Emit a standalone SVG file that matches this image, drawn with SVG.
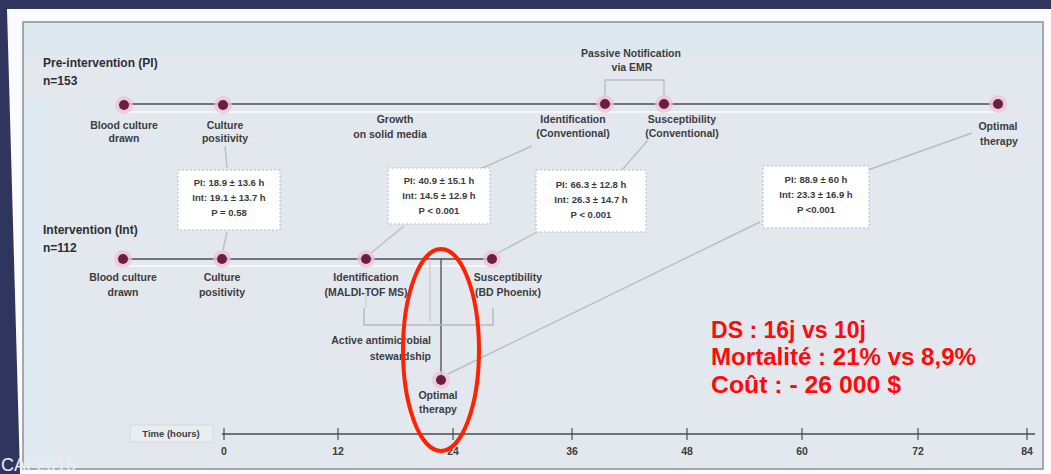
<svg xmlns="http://www.w3.org/2000/svg" width="1051" height="474" viewBox="0 0 1051 474">
<style>
  .lbl{font-family:"Liberation Sans",Arial,sans-serif;font-size:10.5px;font-weight:bold;fill:#3c3c40;text-anchor:middle}
  .ttl{font-family:"Liberation Sans",Arial,sans-serif;font-size:12px;font-weight:bold;fill:#2e2e34}
  .box{fill:#ffffff;stroke:#b8bcc2;stroke-width:1;stroke-dasharray:2 2}
  .btx{font-family:"Liberation Sans",Arial,sans-serif;font-size:9.5px;font-weight:bold;fill:#3a3a40;text-anchor:middle}
  .tl{stroke:#4a4d52;stroke-width:1.6;fill:none}
  .shadow{stroke:#f4f6f8;stroke-width:2;fill:none}
  .conn{stroke:#b9bec4;stroke-width:1.4;fill:none}
  .halo{fill:#f2c2d6;opacity:0.75}
  .dot{fill:#6a1d46}
  .tick{stroke:#4a4d52;stroke-width:1.2}
  .red{font-family:"Liberation Sans",Arial,sans-serif;font-size:23px;font-weight:bold;fill:#ff0a0a}
</style>
<!-- background -->
<rect x="0" y="0" width="1051" height="474" fill="#30355e"/>
<polygon points="7,9 1051,9 1051,474 20,474" fill="#fbfbfd"/>
<rect x="23" y="22" width="1020" height="447" fill="#e3e8ee" stroke="#8c9096" stroke-width="1.5"/>
<rect x="24" y="23" width="1018" height="32" fill="#dde9ef"/>
<rect x="24" y="100" width="28" height="368" fill="#dfeaf2"/>

<!-- connectors -->
<g id="connectors">
  <line class="shadow" x1="124" y1="112" x2="997" y2="112"/>
  <line class="tl" x1="124" y1="104" x2="997" y2="104"/>
  <line class="shadow" x1="123" y1="266" x2="492" y2="266"/>
  <line class="tl" x1="123" y1="259" x2="492" y2="259"/>
  <path class="conn" d="M605,98 V80 H664 V98" stroke="#9a9fa6"/>
  <line class="conn" x1="225" y1="146" x2="227" y2="168"/>
  <line class="conn" x1="227" y1="232" x2="223" y2="250"/>
  <line class="conn" x1="532" y1="146" x2="478" y2="170"/>
  <line class="conn" x1="404" y1="226" x2="371" y2="253"/>
  <line class="conn" x1="648" y1="140" x2="622" y2="170"/>
  <line class="conn" x1="537" y1="232" x2="498" y2="253"/>
  <line class="conn" x1="972" y1="133" x2="868" y2="170"/>
  <line class="conn" x1="760" y1="222" x2="448" y2="374"/>
  <line x1="430" y1="259" x2="430" y2="322" stroke="#c4c8cd" stroke-width="1.2"/>
  <line x1="441" y1="259" x2="441" y2="375" stroke="#55585d" stroke-width="1.4"/>
  <path d="M364,308 V325 H493 V308" fill="none" stroke="#b5b9bf" stroke-width="1.4"/>
  <line x1="366" y1="292" x2="366" y2="308" stroke="#c8ccd1" stroke-width="1"/>
  <line class="tl" x1="222" y1="434" x2="1035" y2="434"/>
</g>

<!-- titles -->
<g id="title-pi">
  <text class="ttl" x="43" y="67">Pre-intervention (PI)</text>
  <text class="ttl" x="43" y="85">n=153</text>
</g>
<g id="title-int">
  <text class="ttl" x="43" y="234">Intervention (Int)</text>
  <text class="ttl" x="43" y="252">n=112</text>
</g>

<!-- PI nodes -->
<g id="pi-blood">
  <circle class="halo" cx="124" cy="105" r="9"/><circle class="dot" cx="124" cy="105" r="5"/>
  <text class="lbl" x="124" y="129">Blood culture</text>
  <text class="lbl" x="124" y="142">drawn</text>
</g>
<g id="pi-positivity">
  <circle class="halo" cx="223" cy="105" r="9"/><circle class="dot" cx="223" cy="105" r="5"/>
  <text class="lbl" x="225" y="129">Culture</text>
  <text class="lbl" x="225" y="142">positivity</text>
</g>
<g id="pi-growth">
  <text class="lbl" x="395" y="123">Growth</text>
  <text class="lbl" x="390" y="138">on solid media</text>
</g>
<g id="pi-notification">
  <text class="lbl" x="631" y="57">Passive Notification</text>
  <text class="lbl" x="632" y="71">via EMR</text>
</g>
<g id="pi-identification">
  <circle class="halo" cx="605" cy="104" r="9"/><circle class="dot" cx="605" cy="104" r="5"/>
  <text class="lbl" x="573" y="123">Identification</text>
  <text class="lbl" x="573" y="137">(Conventional)</text>
</g>
<g id="pi-susceptibility">
  <circle class="halo" cx="664" cy="104" r="9"/><circle class="dot" cx="664" cy="104" r="5"/>
  <text class="lbl" x="682" y="123">Susceptibility</text>
  <text class="lbl" x="682" y="137">(Conventional)</text>
</g>
<g id="pi-optimal">
  <circle class="halo" cx="998" cy="104" r="9"/><circle class="dot" cx="998" cy="104" r="5"/>
  <text class="lbl" x="998" y="130">Optimal</text>
  <text class="lbl" x="999" y="145">therapy</text>
</g>

<!-- time boxes -->
<g id="box-positivity">
  <rect class="box" x="178" y="170" width="102" height="60"/>
  <text class="btx" x="229" y="186">PI: 18.9 ± 13.6 h</text>
  <text class="btx" x="229" y="201">Int: 19.1 ± 13.7 h</text>
  <text class="btx" x="229" y="216">P = 0.58</text>
</g>
<g id="box-identification">
  <rect class="box" x="388" y="168" width="102" height="56"/>
  <text class="btx" x="439" y="184">PI: 40.9 ± 15.1 h</text>
  <text class="btx" x="439" y="199">Int: 14.5 ± 12.9 h</text>
  <text class="btx" x="439" y="214">P &lt; 0.001</text>
</g>
<g id="box-susceptibility">
  <rect class="box" x="536" y="170" width="110" height="62"/>
  <text class="btx" x="591" y="188">PI: 66.3 ± 12.8 h</text>
  <text class="btx" x="591" y="203">Int: 26.3 ± 14.7 h</text>
  <text class="btx" x="591" y="218">P &lt; 0.001</text>
</g>
<g id="box-optimal">
  <rect class="box" x="763" y="166" width="106" height="62"/>
  <text class="btx" x="816" y="183">PI: 88.9 ± 60 h</text>
  <text class="btx" x="816" y="198">Int: 23.3 ± 16.9 h</text>
  <text class="btx" x="816" y="213">P &lt;0.001</text>
</g>

<!-- Int nodes -->
<g id="int-blood">
  <circle class="halo" cx="123" cy="259" r="9"/><circle class="dot" cx="123" cy="259" r="5"/>
  <text class="lbl" x="123" y="281">Blood culture</text>
  <text class="lbl" x="123" y="296">drawn</text>
</g>
<g id="int-positivity">
  <circle class="halo" cx="222" cy="259" r="9"/><circle class="dot" cx="222" cy="259" r="5"/>
  <text class="lbl" x="222" y="281">Culture</text>
  <text class="lbl" x="222" y="296">positivity</text>
</g>
<g id="int-identification">
  <circle class="halo" cx="366" cy="259" r="9"/><circle class="dot" cx="366" cy="259" r="5"/>
  <text class="lbl" x="366" y="281">Identification</text>
  <text class="lbl" x="366" y="296">(MALDI-TOF MS)</text>
</g>
<g id="int-susceptibility">
  <circle class="halo" cx="492" cy="259" r="9"/><circle class="dot" cx="492" cy="259" r="5"/>
  <text class="lbl" x="508" y="281">Susceptibility</text>
  <text class="lbl" x="508" y="296">(BD Phoenix)</text>
</g>
<g id="int-stewardship">
  <text class="lbl" x="431" y="344" style="text-anchor:end">Active antimicrobial</text>
  <text class="lbl" x="431" y="360" style="text-anchor:end">stewardship</text>
</g>
<g id="int-optimal">
  <circle class="halo" cx="441" cy="380" r="9"/><circle class="dot" cx="441" cy="380" r="5"/>
  <text class="lbl" x="438" y="399">Optimal</text>
  <text class="lbl" x="438" y="413">therapy</text>
</g>

<!-- time axis -->
<g id="time-axis">
  <rect x="130" y="425" width="83" height="17" fill="#e9edf2" stroke="#d6dadf" stroke-width="1"/>
  <text class="lbl" x="171" y="437" style="font-size:9.5px">Time (hours)</text>
  <g>
    <line class="tick" x1="224" y1="428" x2="224" y2="440"/>
    <line class="tick" x1="338" y1="428" x2="338" y2="440"/>
    <line class="tick" x1="453" y1="428" x2="453" y2="440"/>
    <line class="tick" x1="572" y1="428" x2="572" y2="440"/>
    <line class="tick" x1="687" y1="428" x2="687" y2="440"/>
    <line class="tick" x1="802" y1="428" x2="802" y2="440"/>
    <line class="tick" x1="918" y1="428" x2="918" y2="440"/>
    <line class="tick" x1="1027" y1="428" x2="1027" y2="440"/>
  </g>
  <text class="lbl" x="224" y="455">0</text>
  <text class="lbl" x="338" y="455">12</text>
  <text class="lbl" x="453" y="455">24</text>
  <text class="lbl" x="572" y="455">36</text>
  <text class="lbl" x="687" y="455">48</text>
  <text class="lbl" x="802" y="455">60</text>
  <text class="lbl" x="918" y="455">72</text>
  <text class="lbl" x="1027" y="455">84</text>
</g>

<!-- red highlight -->
<g id="highlight">
  <ellipse cx="441" cy="350" rx="38" ry="101" fill="none" stroke="#ff2200" stroke-width="4"/>
</g>
<g id="results">
  <text class="red" x="711" y="338" textLength="155" lengthAdjust="spacingAndGlyphs">DS : 16j vs 10j</text>
  <text class="red" x="711" y="365" textLength="265" lengthAdjust="spacingAndGlyphs">Mortalité : 21% vs 8,9%</text>
  <text class="red" x="711" y="393" textLength="190" lengthAdjust="spacingAndGlyphs">Coût : - 26 000 $</text>
</g>
<text x="1" y="471" font-family="'Liberation Sans',Arial,sans-serif" font-size="18" fill="#eceef4">CAI 2015</text>
</svg>
